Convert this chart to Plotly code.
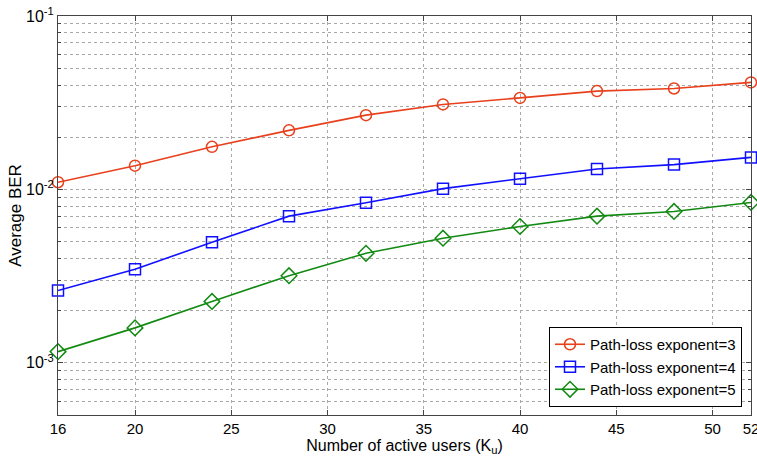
import plotly.graph_objects as go
import numpy as np

users = [16, 20, 24, 28, 32, 36, 40, 44, 48, 52]
ber_ple3 = [0.0110, 0.0137, 0.0176, 0.0219, 0.0268, 0.0309, 0.0337, 0.0369, 0.0382, 0.0414]
ber_ple4 = [0.00261, 0.00346, 0.00496, 0.00701, 0.00838, 0.0101, 0.01153, 0.0131, 0.0139, 0.0153]
ber_ple5 = [0.00116, 0.00159, 0.00226, 0.00318, 0.00428, 0.00523, 0.00611, 0.00701, 0.00746, 0.00841]
names = ["Path-loss exponent=3", "Path-loss exponent=4", "Path-loss exponent=5"]

x_ticks = [16, 20, 25, 30, 35, 40, 45, 50, 52]
y_ticks = [1e-3, 1e-2, 1e-1]
y_ticktext = ["10<sup>-3</sup>", "10<sup>-2</sup>", "10<sup>-1</sup>"]
y_minor = [m * 10.0**e for e in (-4, -3, -2) for m in range(2, 10) if 5e-4 <= m * 10.0**e < 1e-1]

colors = ["#e8401c", "#1010ff", "#128a12"]
symbols = ["circle-open", "square-open", "diamond-open"]
sizes = [11, 11, 12]

fig = go.Figure()
for ys, nm, c, s, sz in zip([ber_ple3, ber_ple4, ber_ple5], names, colors, symbols, sizes):
    fig.add_trace(go.Scatter(
        x=users, y=ys, name=nm, mode="lines+markers",
        line=dict(color=c, width=1.6),
        marker=dict(symbol=s, size=sz, color=c, line=dict(width=1.5, color=c)),
        cliponaxis=False,
    ))

font = "Liberation Sans, Arial, sans-serif"
fig.update_layout(
    width=757, height=459,
    margin=dict(l=58, r=6, t=16, b=44, autoexpand=False),
    paper_bgcolor="white", plot_bgcolor="white",
    font=dict(family=font, size=15, color="black"),
    showlegend=True,
    legend=dict(
        x=0.987, y=0.02, xanchor="right", yanchor="bottom",
        bgcolor="white", bordercolor="black", borderwidth=1,
        font=dict(size=15), tracegroupgap=0, itemwidth=30,
    ),
    xaxis=dict(
        range=[16, 52], tickmode="array", tickvals=x_ticks,
        ticks="inside", ticklen=5, tickcolor="#444", mirror="ticks",
        showline=True, linecolor="#444", linewidth=1,
        showgrid=True, gridcolor="#a8a8a8", griddash="dot", gridwidth=1,
        zeroline=False, automargin=False, ticklabeloverflow="allow",
        title=dict(text="Number of active users (K<sub>u</sub>)", standoff=2, font=dict(size=16)),
        tickfont=dict(size=15),
    ),
    yaxis=dict(
        type="log", range=[np.log10(5e-4), -1],
        tickmode="array", tickvals=y_ticks, ticktext=y_ticktext,
        ticks="inside", ticklen=5, tickcolor="#444", mirror="ticks",
        showline=True, linecolor="#444", linewidth=1,
        showgrid=True, gridcolor="#a8a8a8", griddash="dot", gridwidth=1,
        zeroline=False, automargin=False, ticklabeloverflow="allow",
        minor=dict(tickmode="array", tickvals=y_minor, ticks="inside", ticklen=3,
                   tickcolor="#444", showgrid=True, gridcolor="#a8a8a8", griddash="dot", gridwidth=1),
        title=dict(text="Average BER", standoff=0, font=dict(size=17)),
        tickfont=dict(size=16),
    ),
)

fig.write_html("out.html", config={"displayModeBar": False},
               post_script="document.body.style.margin='0px';")
